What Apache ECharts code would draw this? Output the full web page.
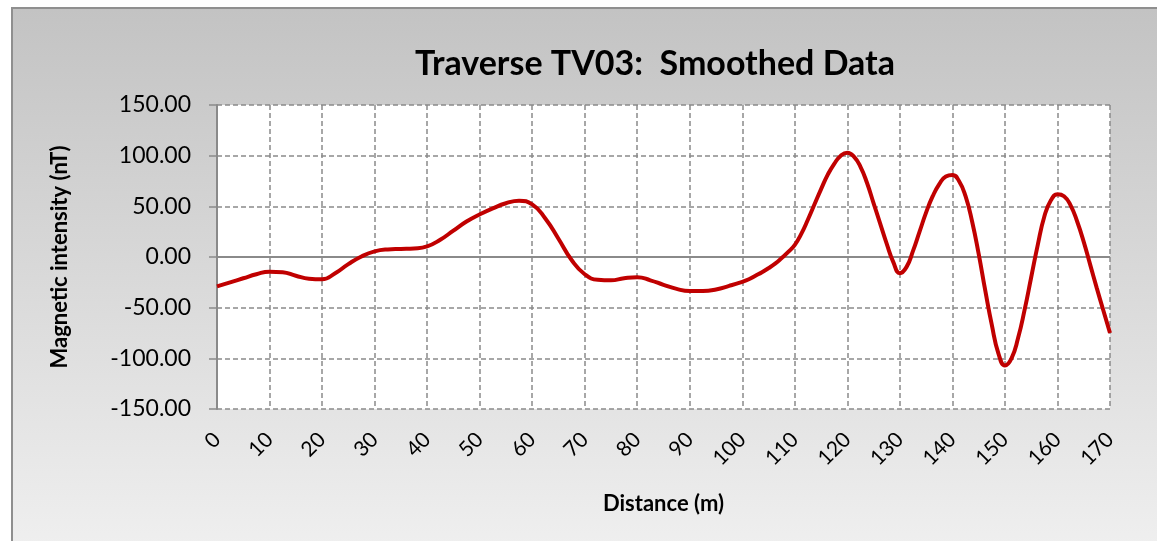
<!DOCTYPE html>
<html>
<head>
<meta charset="utf-8">
<title>Traverse TV03</title>
<script src="https://cdn.jsdelivr.net/npm/echarts@6/dist/echarts.min.js"></script>
<style>
    html, body {
        margin: 0;
        padding: 0;
        background: #fff;
        overflow: hidden;
    }
    .chart-frame {
        position: absolute;
        left: 11px;
        top: 7px;
        width: 1160px;
        height: 550px;
        border-left: 2px solid #8f8f8f;
        border-top: 2px solid #8f8f8f;
        background: linear-gradient(#c3c3c3, #f0f0f0);
    }
    #traverse_chart {
        position: absolute;
        left: 0;
        top: 0;
        width: 1157px;
        height: 541px;
    }
</style>
</head>
<body>
<div class="chart-frame"></div>
<div id="traverse_chart"></div>

<script>
// distance along the traverse (m)
const distance = [
    0, 2.5, 5, 7.5, 10, 12.5, 15, 17.5, 20, 22.5,
    25, 27.5, 30, 32.5, 35, 37.5, 40, 42.5, 45, 47.5,
    50, 52.5, 55, 57.5, 60, 62.5, 65, 67.5, 70, 72.5,
    75, 77.5, 80, 82.5, 85, 87.5, 90, 92.5, 95, 97.5,
    100, 101.25, 102.5, 103.75, 105, 106.25, 107.5, 108.75,
    110, 111.25, 112.5, 113.75, 115, 116.25, 117.5, 118.75,
    120, 121.25, 122.5, 123.75, 125, 126.25, 127.5, 128.75,
    130, 131.25, 132.5, 133.75, 135, 136.25, 137.5, 138.75,
    140, 141.25, 142.5, 143.75, 145, 146.25, 147.5, 148.75,
    150, 151.25, 152.5, 153.75, 155, 156.25, 157.5, 158.75,
    160, 161.25, 162.5, 163.75, 165, 166.25, 167.5, 168.75,
    170
]

// smoothed magnetic intensity (nT)
const intensity = [
    -29, -25, -21, -17, -14.5, -15, -18.5, -21.5, -22, -16,
    -7, 0.5, 5.5, 7.5, 8, 8.5, 10.5, 17, 26, 35,
    42, 48, 53, 55.5, 52, 38, 18, -3, -17, -22.5,
    -23, -21, -20, -23, -27.5, -31.5, -33.5, -33.5, -32, -28.5,
    -24.5, -22, -18.5, -15, -11, -6.5, -1, 5,
    12, 23, 37, 52, 67, 81, 92, 100,
    103, 99, 89, 73, 53, 33, 13, -5,
    -16, -10, 6, 25, 44, 60, 72, 79.5,
    81, 75, 60, 35, 3, -33, -67, -95,
    -107, -100, -80, -52, -20, 12, 40, 56,
    62, 60, 51, 35, 15, -8, -31, -53,
    -75
]

const yTicks = [-150, -100, -50, 0, 50, 100, 150]

const labelFont = 'Lato, "Open Sans", sans-serif'

let chartDom = document.getElementById('traverse_chart')
let myChart = echarts.init(chartDom)
let option

option = {
    backgroundColor: 'transparent',
    animation: false,
    title: {
        text: 'Traverse TV03:  Smoothed Data',
        left: 650,
        top: 42,
        textAlign: 'center',
        textStyle: {
            fontFamily: labelFont,
            fontWeight: 'bold',
            fontSize: 34,
            color: '#000'
        }
    },
    grid: {
        left: 217,
        top: 105,
        right: 47,
        bottom: 132,
        show: true,
        backgroundColor: '#fff',
        borderWidth: 0
    },
    xAxis: {
        type: 'value',
        min: 0,
        max: 170,
        interval: 10,
        name: 'Distance (m)',
        nameLocation: 'middle',
        nameGap: 84,
        nameTextStyle: {
            fontFamily: labelFont,
            fontWeight: 'bold',
            fontSize: 22,
            color: '#000'
        },
        axisLine: { show: false },
        axisTick: { show: false },
        axisLabel: {
            rotate: 45,
            margin: 27,
            fontFamily: labelFont,
            fontSize: 21,
            color: '#000'
        },
        splitLine: {
            show: true,
            lineStyle: { color: '#8a8a8a', width: 1.5, type: [5, 3] }
        }
    },
    yAxis: {
        type: 'value',
        min: yTicks[0],
        max: yTicks[yTicks.length - 1],
        interval: 50,
        name: 'Magnetic intensity (nT)',
        nameLocation: 'middle',
        nameGap: 146,
        nameTextStyle: {
            fontFamily: labelFont,
            fontWeight: 'bold',
            fontSize: 22,
            color: '#000'
        },
        axisLine: {
            show: true,
            onZero: false,
            lineStyle: { color: '#8a8a8a', width: 2 }
        },
        axisTick: {
            show: true,
            length: 8,
            lineStyle: { color: '#8a8a8a', width: 1.5 }
        },
        axisLabel: {
            margin: 26,
            formatter: (v) => v.toFixed(2),
            fontFamily: labelFont,
            fontSize: 23,
            color: '#000'
        },
        splitLine: {
            show: true,
            lineStyle: { color: '#8a8a8a', width: 1.5, type: [5, 3] }
        }
    },
    series: [
        {
            name: 'Smoothed',
            type: 'line',
            data: distance.map((d, i) => [d, intensity[i]]),
            smooth: 0.5,
            showSymbol: false,
            lineStyle: { color: '#c00000', width: 4 },
            z: 5,
            markLine: {
                silent: true,
                symbol: 'none',
                label: { show: false },
                lineStyle: { color: '#8a8a8a', width: 2, type: 'solid' },
                data: [{ yAxis: 0 }]
            }
        }
    ]
}

option && myChart.setOption(option)
</script>
</body>
</html>
